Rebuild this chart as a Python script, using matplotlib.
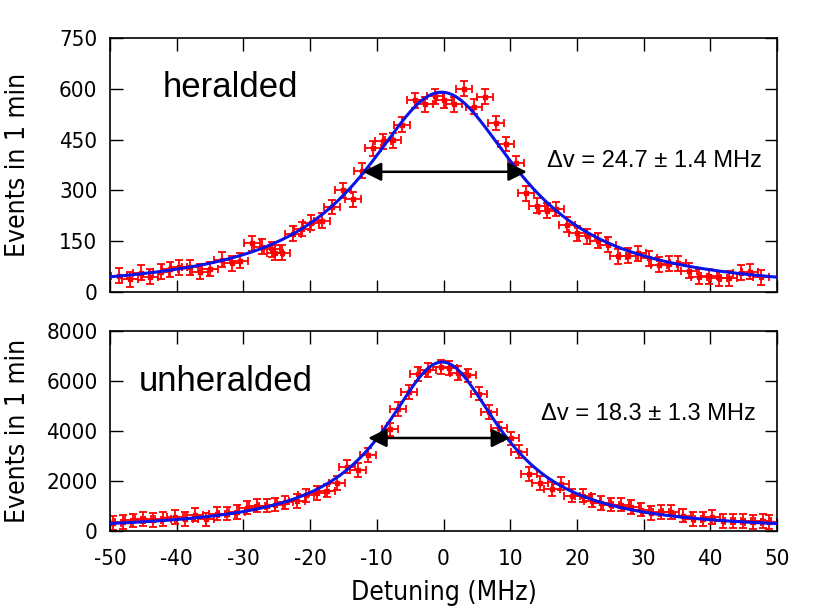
import numpy as np
import matplotlib
matplotlib.use("Agg")
import matplotlib.pyplot as plt

plt.rcParams['axes.unicode_minus'] = False

# ---- heralded data (MHz, events in 1 min) ----
her_x = [-48.65, -47.0, -45.35, -44.0, -42.35, -41.0, -39.6, -38.0, -36.5, -35.0,
         -33.25, -31.75, -30.5, -28.75, -27.15, -25.75, -25.25, -24.25, -22.6, -21.25,
         -19.9, -18.25, -16.65, -15.0, -13.5, -12.25, -10.5, -9.0, -7.6, -6.25,
         -4.25, -2.75, -1.3, 0.1, 1.6, 3.0, 4.6, 6.25, 7.85, 9.35,
         10.85, 12.35, 13.95, 15.45, 16.85, 18.45, 20.0, 21.45, 23.1, 24.6,
         26.1, 27.6, 29.1, 30.85, 32.35, 33.75, 35.1, 36.75, 38.25, 39.75,
         41.35, 42.85, 44.6, 45.95, 47.6]
her_y = [48, 37, 57, 45, 60, 67, 73, 73, 60, 68,
         95, 85, 93, 144, 134, 126, 116, 116, 172, 186,
         205, 211, 251, 300, 274, 358, 425, 445, 448, 494,
         566, 554, 578, 566, 554, 600, 547, 576, 499, 437,
         381, 292, 255, 240, 245, 198, 174, 164, 152, 139,
         105, 107, 114, 100, 80, 83, 85, 63, 45, 47,
         40, 40, 57, 60, 43]
her_xerr = 1.2
her_yerr = 22

# ---- unheralded data ----
unh_x = [-49.5, -48.0, -46.5, -45.0, -43.5, -42.0, -40.25, -38.75, -37.25, -35.6,
         -34.0, -32.5, -31.0, -29.5, -28.0, -26.5, -25.25, -23.75, -22.0, -20.6,
         -19.0, -17.4, -15.9, -14.4, -12.75, -11.25, -8.0, -6.75, -5.1, -3.75,
         -2.25, -0.4, 0.85, 2.1, 3.6, 5.25, 6.85, 8.35, 10.1, 11.25,
         12.85, 14.5, 16.25, 17.6, 19.25, 20.95, 22.2, 23.6, 25.1, 26.6,
         28.1, 29.6, 31.1, 32.6, 34.1, 35.85, 37.35, 38.85, 40.25, 41.85,
         43.35, 44.85, 46.35, 47.85, 48.85]
unh_y = [330, 358, 424, 490, 437, 490, 570, 490, 660, 464,
         700, 700, 755, 940, 1020, 1020, 1060, 1150, 1205, 1430,
         1520, 1615, 1920, 2580, 2450, 3050, 4070, 4890, 5565, 6290,
         6450, 6560, 6530, 6320, 6230, 5500, 4770, 4110, 3710, 3180,
         2290, 1920, 1680, 1895, 1420, 1420, 1220, 1125, 1060, 1060,
         970, 860, 730, 770, 770, 620, 490, 490, 570, 400,
         400, 400, 360, 400, 370]
unh_xerr = 1.2
unh_yerr = 270

# ---- Lorentzian fit parameters ----
her_fit = dict(amp=590, center=-0.3, gamma=28.5, offset=0)
unh_fit = dict(amp=6760, center=-0.2, gamma=21.5, offset=0)

# FWHM arrows (x_left, x_right, y)
her_arrow = (-12.1, 12.5, 355)
unh_arrow = (-11.3, 10.0, 3720)

her_label = "heralded"
unh_label = "unheralded"
her_width = "\u0394v = 24.7 \u00b1 1.4 MHz"
unh_width = "\u0394v = 18.3 \u00b1 1.3 MHz"

x_ticks = [-50, -40, -30, -20, -10, 0, 10, 20, 30, 40, 50]
her_yticks = [0, 150, 300, 450, 600, 750]
unh_yticks = [0, 2000, 4000, 6000, 8000]


def lorentz(x, amp, center, gamma, offset):
    return offset + amp / (1 + (2 * (x - center) / gamma) ** 2)


fig = plt.figure(figsize=(8.17, 6.10), dpi=100)
W, H = 817, 610
ax1 = fig.add_axes([110 / W, 1 - 292 / H, 667 / W, 254 / H])
ax2 = fig.add_axes([110 / W, 1 - 531 / H, 667 / W, 200 / H])

xs = np.linspace(-50, 50, 600)
lab_font = dict(family='DejaVu Sans', stretch='condensed')

for ax, x, y, xe, ye, fit, arr, yt, ylim in [
    (ax1, her_x, her_y, her_xerr, her_yerr, her_fit, her_arrow, her_yticks, 750),
    (ax2, unh_x, unh_y, unh_xerr, unh_yerr, unh_fit, unh_arrow, unh_yticks, 8000),
]:
    ax.errorbar(x, y, xerr=xe, yerr=ye, fmt='s', color='#ff0000', ms=2.5,
                elinewidth=1.3, capsize=3.2, capthick=1.3, zorder=2)
    ax.plot(xs, lorentz(xs, **fit), color='#0a14e6', lw=2.2, zorder=3)
    ax.annotate('', xy=(arr[0], arr[2]), xytext=(arr[1], arr[2]),
                arrowprops=dict(arrowstyle='<|-|>', color='black', lw=1.8,
                                mutation_scale=28, shrinkA=0, shrinkB=0),
                zorder=4)
    ax.set_xlim(-50, 50)
    ax.set_ylim(0, ylim)
    ax.set_xticks(x_ticks)
    ax.set_yticks(yt)
    ax.tick_params(direction='in', length=9, width=1, top=True, right=True,
                   labelsize=16)
    ax.tick_params(axis='y', pad=9)
    ax.tick_params(axis='x', pad=13)
    for t in ax.get_xticklabels() + ax.get_yticklabels():
        t.set_fontstretch('condensed')
    for s in ax.spines.values():
        s.set_linewidth(1.2)
    ax.set_ylabel("Events in 1 min", fontsize=19, **lab_font)
    ax.yaxis.set_label_coords(-0.118, 0.5)

ax1.tick_params(labelbottom=False)
ax2.set_xlabel("Detuning (MHz)", fontsize=19, labelpad=8, **lab_font)

ax1.text(163 / W, 1 - 97 / H, her_label, transform=fig.transFigure,
         fontsize=25, family='Liberation Sans', ha='left', va='baseline')
ax2.text(139 / W, 1 - 391 / H, unh_label, transform=fig.transFigure,
         fontsize=25, family='Liberation Sans', ha='left', va='baseline')
ax1.text(547 / W, 1 - 161 / H, her_width, transform=fig.transFigure,
         fontsize=17, family='Liberation Sans', ha='left', va='center')
ax2.text(541 / W, 1 - 414 / H, unh_width, transform=fig.transFigure,
         fontsize=17, family='Liberation Sans', ha='left', va='center')

fig.savefig("out.png", dpi=100)
